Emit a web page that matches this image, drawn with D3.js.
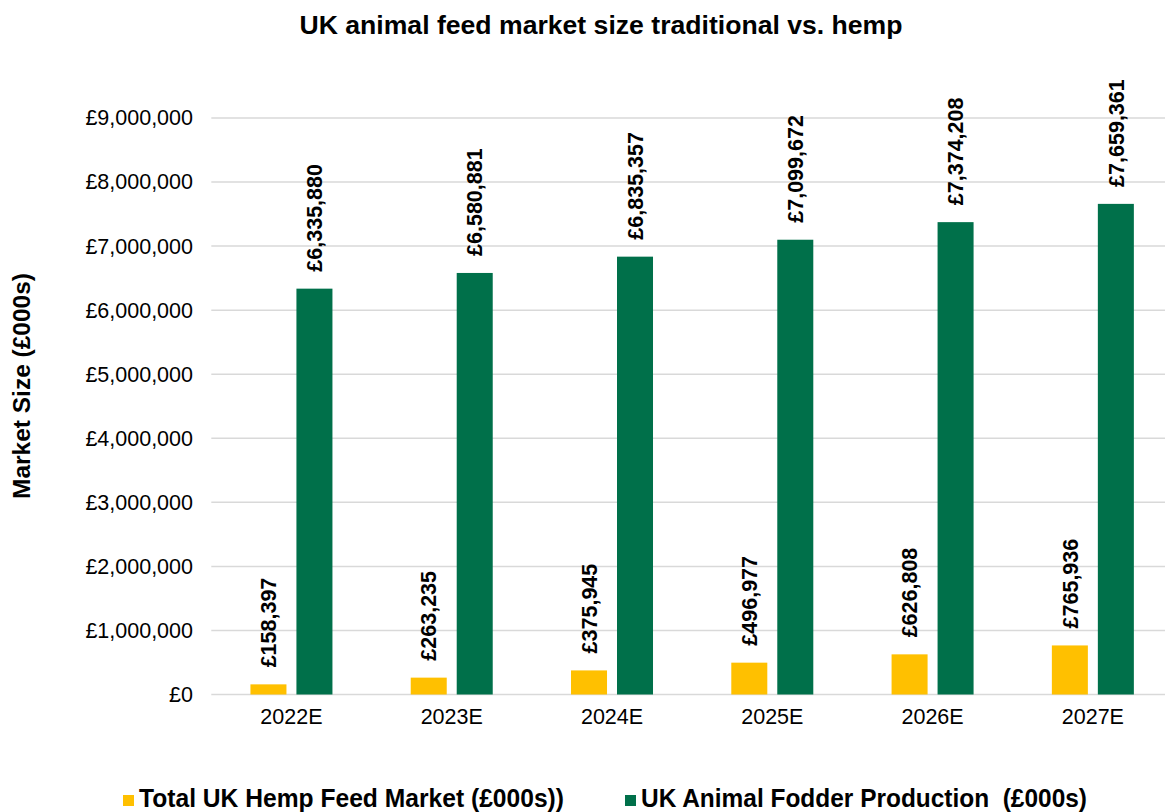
<!DOCTYPE html>
<html><head><meta charset="utf-8">
<script src="https://cdn.jsdelivr.net/npm/d3@7"></script>
<style>
html,body{margin:0;padding:0;background:#fff;}
svg{display:block;font-family:"Liberation Sans",Arial,Helvetica,sans-serif;}
</style></head>
<body><svg id="chart" width="1165" height="812"></svg>
<script>
const categories = ["2022E","2023E","2024E","2025E","2026E","2027E"];
const seriesNames = ["Total UK Hemp Feed Market (£000s))","UK Animal Fodder Production  (£000s)"];
const hempValues = [158397,263235,375945,496977,626808,765936];
const fodderValues = [6335880,6580881,6835357,7099672,7374208,7659361];
const yTicks = [0,1000000,2000000,3000000,4000000,5000000,6000000,7000000,8000000,9000000];
const colors = ["#FFC000","#00704A"];
const chartTitle = "UK animal feed market size traditional vs. hemp";
const yTitle = "Market Size (£000s)";

(function(){
const svg = d3.select("#chart");
const pL = 211.3, pR = 1173, pT = 118, pB = 694.5;

const x0 = d3.scaleBand().domain(categories).range([pL,pR]).padding(0);
const groupW = 82;
const x1 = d3.scaleBand().domain([0,1]).range([0,groupW]).paddingInner(0.217).paddingOuter(0);
const y = d3.scaleLinear().domain([0,9000000]).range([pB,pT]);
const fmt = v => "£" + d3.format(",")(v);

svg.append("g").selectAll("line").data(yTicks).join("line")
  .attr("x1",pL).attr("x2",pR)
  .attr("y1",d=>y(d)).attr("y2",d=>y(d))
  .attr("stroke","#d9d9d9").attr("stroke-width",1.5);

const yAxis = d3.axisLeft(y).tickValues(yTicks).tickFormat(fmt).tickSize(0).tickPadding(0);
const ya = svg.append("g").attr("transform",`translate(193,0)`).call(yAxis);
ya.select(".domain").remove();
ya.selectAll("text").attr("font-size",21.5).attr("fill","#000")
  .attr("font-family",'"Liberation Sans",Arial,sans-serif');

const xAxis = d3.axisBottom(x0).tickSize(0).tickPadding(0);
const xa = svg.append("g").attr("transform",`translate(0,${pB+10})`).call(xAxis);
xa.select(".domain").remove();
xa.selectAll("text").attr("font-size",21.5).attr("fill","#000").attr("dy","0.9em")
  .attr("font-family",'"Liberation Sans",Arial,sans-serif');

const data = categories.map((c,i)=>({cat:c, vals:[hempValues[i], fodderValues[i]]}));
const groups = svg.append("g").selectAll("g").data(data).join("g")
  .attr("transform",d=>`translate(${x0(d.cat)+(x0.bandwidth()-groupW)/2},0)`);

groups.selectAll("rect").data(d=>d.vals.map((v,k)=>({v,k}))).join("rect")
  .attr("x",d=>x1(d.k)).attr("width",x1.bandwidth())
  .attr("y",d=>y(d.v)).attr("height",d=>y(0)-y(d.v))
  .attr("fill",d=>colors[d.k]);

groups.selectAll("text.lbl").data(d=>d.vals.map((v,k)=>({v,k}))).join("text")
  .attr("class","lbl")
  .attr("transform",d=>`translate(${x1(d.k)+x1.bandwidth()/2},${y(d.v)-17}) rotate(-90)`)
  .attr("dy","0.36em")
  .attr("font-size",21.5).attr("font-weight","bold").attr("fill","#000")
  .text(d=>fmt(d.v));

svg.append("text").attr("x",601).attr("y",34).attr("text-anchor","middle")
  .attr("font-size",25).attr("font-weight","bold")
  .attr("textLength",603).attr("lengthAdjust","spacingAndGlyphs").text(chartTitle);

svg.append("text").attr("transform","translate(30,386) rotate(-90)")
  .attr("text-anchor","middle").attr("font-size",23).attr("font-weight","bold")
  .attr("textLength",226).attr("lengthAdjust","spacingAndGlyphs").text(yTitle);

const legX = [123,625];
const legW = [425,446];
const leg = svg.append("g").selectAll("g").data(seriesNames).join("g")
  .attr("transform",(d,i)=>`translate(${legX[i]},795)`);
leg.append("rect").attr("width",11).attr("height",11).attr("fill",(d,i)=>colors[i]);
leg.append("text").attr("x",16).attr("y",12)
  .attr("font-size",25).attr("font-weight","bold")
  .attr("textLength",(d,i)=>legW[i]).attr("lengthAdjust","spacingAndGlyphs")
  .style("white-space","pre").text(d=>d);
})();
</script></body></html>
